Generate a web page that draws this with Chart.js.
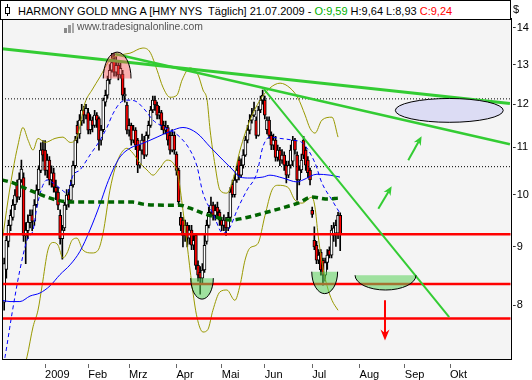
<!DOCTYPE html>
<html>
<head>
<meta charset="utf-8">
<script src="https://cdn.jsdelivr.net/npm/chart.js@4.4.0/dist/chart.umd.min.js"></script>
<style>
  body { margin: 0; background: #fff; }
  #wrap { position: relative; width: 532px; height: 380px; overflow: hidden; }
  #title {
    position: absolute; left: 0; top: 0; width: 511px; height: 20px; box-sizing: border-box;
    border: 1px solid #000; background: #fff; padding: 1px 0 0 17px;
    font: 11px "Liberation Sans", Arial, sans-serif; line-height: 18px; white-space: pre; color: #000;
  }
  #title .o { color: #00b000; }
  #title .c { color: #ff0000; }
  #icon { position: absolute; left: 4px; top: 4px; width: 7px; height: 12px; }
  #icon i, #logo i { position: absolute; display: block; }
  #logo { position: absolute; left: 64px; top: 23px; width: 10px; height: 10px; }
  #wm { position: absolute; left: 77px; top: 21px; font: 10.4px "Liberation Sans", Arial, sans-serif; color: #555; }
  #cur { position: absolute; left: 513px; top: 3px; font: 11px "Liberation Sans", Arial, sans-serif; color: #000; }
</style>
</head>
<body>
<div id="wrap">
  <canvas id="chart" width="532" height="380"></canvas>
  <div id="title">HARMONY GOLD MNG A [HMY NYS  Täglich] 21.07.2009 - <span class="o">O:9,59</span> H:9,64 L:8,93 <span class="c">C:9,24</span></div>
  <div id="icon"><i style="left:3px;top:0;width:1px;height:12px;background:#000"></i><i style="left:1px;top:3px;width:3px;height:5px;border:1px solid #000;background:#fff"></i></div>
  <div id="logo"><i style="left:0;top:5px;width:3px;height:5px;background:#888"></i><i style="left:4px;top:2px;width:3px;height:8px;background:#999"></i><i style="left:8px;top:0;width:2px;height:10px;background:#aaa"></i></div>
  <div id="wm">www.tradesignalonline.com</div>
  <div id="cur">$</div>
</div>
<script>
/* ------------- Kerzen (Handelstage, 0 = 02.01.2009) ------------- */
const firstDay = -19;
const open  = [8.05,8.60,9.10,9.40,9.55,9.80,10.20,9.95,10.30,10.35,9.20,9.30,9.45,9.60,9.48,9.80,10.10,10.50,10.95,
  10.94,10.50,10.72,10.30,10.45,10.15,10.05,9.59,9.15,9.35,9.79,10.00,9.89,10.20,10.60,11.50,11.30,11.60,11.86,11.74,
  11.80,11.40,11.62,11.50,11.74,11.66,11.16,11.40,12.05,12.22,12.60,12.85,13.12,12.80,12.98,12.73,12.75,12.20,11.98,11.39,
  11.50,11.16,11.39,11.16,10.61,10.94,11.16,10.83,11.27,11.50,11.86,12.10,11.98,11.74,11.80,11.50,11.39,11.45,11.27,10.94,
  11.27,10.85,10.51,9.55,9.50,9.21,9.40,9.16,9.31,9.03,9.21,8.67,8.55,8.45,8.59,9.10,9.40,9.65,9.79,9.59,
  9.75,9.65,9.50,9.40,9.50,9.35,9.55,10.21,10.00,10.30,10.72,10.40,10.61,10.83,11.16,11.39,11.62,11.74,11.62,11.27,
  11.86,12.10,12.10,11.40,11.62,11.27,11.05,11.16,10.78,10.94,10.72,10.83,10.61,10.40,10.61,10.70,11.16,10.83,10.30,10.51,
  11.16,10.94,10.72,10.51,9.69,9.12,9.03,8.76,8.90,8.76,8.50,8.72,8.94,8.85,9.21,9.25,9.25,9.59];
const high  = [8.80,9.20,9.50,9.70,9.90,10.10,10.30,10.45,10.72,10.45,9.45,9.60,9.70,9.70,9.90,10.20,10.60,11.10,11.15,
  11.15,10.85,10.80,10.60,10.55,10.30,10.15,9.70,9.40,9.85,10.10,10.10,10.30,10.70,11.25,11.60,11.75,12.00,11.95,12.00,
  11.90,11.75,11.70,11.85,11.80,11.70,11.50,12.15,12.35,12.70,13.00,13.30,13.30,13.20,13.10,13.05,12.85,12.40,12.05,11.65,
  11.55,11.50,11.45,11.20,11.05,11.30,11.25,11.35,11.60,11.95,12.20,12.20,12.05,11.95,11.85,11.60,11.60,11.50,11.35,11.40,
  11.35,10.90,10.55,9.65,9.55,9.50,9.45,9.40,9.40,9.25,9.25,8.75,8.65,8.70,9.25,9.50,9.75,9.95,9.85,9.80,
  9.85,9.70,9.55,9.60,9.55,9.65,10.15,10.30,10.40,10.60,10.80,10.75,10.95,11.25,11.50,11.75,11.90,12.05,11.70,11.95,
  12.20,12.35,12.20,11.70,11.70,11.35,11.30,11.25,11.05,11.00,10.95,10.90,10.70,10.70,11.05,11.25,11.20,10.90,10.60,10.85,
  11.25,11.00,10.80,10.55,9.75,9.37,9.10,8.95,8.95,8.80,8.80,8.95,9.00,9.40,9.45,9.50,9.65,9.64];
const low   = [7.92,8.45,9.00,9.30,9.50,9.70,9.85,9.90,10.25,9.10,8.70,9.15,9.35,9.30,9.40,9.75,10.00,10.45,10.70,
  10.40,10.35,10.20,10.15,10.05,9.90,9.70,9.05,8.78,9.30,9.70,9.75,9.85,10.15,10.55,11.10,11.20,11.50,11.55,11.65,
  11.30,11.30,11.35,11.45,11.45,10.94,11.05,11.35,11.95,12.15,12.50,12.80,12.70,12.70,12.60,12.65,12.10,12.05,11.30,11.25,
  11.05,11.10,10.95,10.45,10.55,10.85,10.75,10.80,11.20,11.45,11.80,11.85,11.65,11.65,11.40,11.30,11.30,11.05,10.85,10.90,
  10.85,10.40,9.80,9.30,9.00,9.10,9.00,9.05,8.95,8.95,8.60,8.40,8.18,8.35,8.55,9.05,9.35,9.60,9.50,9.50,
  9.55,9.40,9.30,9.30,9.21,9.30,9.50,9.95,9.95,10.25,10.30,10.35,10.55,10.80,11.10,11.30,11.55,11.70,11.20,11.25,
  11.80,12.00,11.65,11.30,11.20,10.95,10.95,10.70,10.70,10.60,10.65,10.50,10.24,10.35,10.55,10.60,10.85,9.89,10.20,10.45,
  10.75,10.50,10.35,10.20,9.55,8.95,8.70,8.70,8.50,8.33,8.40,8.60,8.80,8.80,9.10,9.01,9.15,8.93];
const close = [8.70,9.12,9.40,9.59,9.79,9.99,9.95,10.32,10.53,9.21,9.31,9.46,9.59,9.48,9.79,10.09,10.53,10.94,10.83,
  10.50,10.72,10.30,10.45,10.15,10.05,9.79,9.15,9.31,9.79,9.99,9.89,10.19,10.61,11.16,11.30,11.62,11.86,11.74,11.90,
  11.39,11.62,11.50,11.74,11.62,11.16,11.39,12.10,12.22,12.60,12.85,13.05,12.80,12.98,12.73,12.90,12.22,12.25,11.39,11.50,
  11.16,11.39,11.05,10.61,10.94,11.16,10.83,11.27,11.50,11.86,12.10,11.98,11.74,11.80,11.50,11.39,11.45,11.16,10.94,11.27,
  10.94,10.50,9.86,9.40,9.21,9.40,9.16,9.31,9.03,9.12,8.67,8.50,8.45,8.59,9.03,9.40,9.65,9.79,9.59,9.69,
  9.65,9.50,9.40,9.50,9.35,9.55,10.05,10.00,10.30,10.51,10.40,10.61,10.83,11.16,11.39,11.62,11.74,11.86,11.27,11.86,
  12.10,12.22,11.74,11.62,11.27,11.05,11.16,10.78,10.94,10.72,10.83,10.61,10.40,10.61,10.94,11.16,10.94,10.30,10.51,10.72,
  10.83,10.61,10.45,10.30,9.61,9.00,8.76,8.85,8.59,8.50,8.72,8.85,8.85,9.31,9.35,9.40,9.59,9.24];

/* ------------- Achsen ------------- */
const dayMin = -20.01, dayMax = 216.16;
const priceMin = 7.164, priceMax = 14.25;
const monthStarts = [0, 20, 39, 61, 82, 102, 124, 146, 167, 188];
const monthLabels = ["2009", "Feb", "Mrz", "Apr", "Mai", "Jun", "Jul", "Aug", "Sep", "Okt"];
const priceTicks = [8, 9, 10, 11, 12, 13, 14];

/* ------------- Indikatoren [Tag, Kurs] ------------- */
const bbUpper = [[-20,9.08],[-17.2,9.89],[-14.9,10.51],[-12.6,11.05],[-10.3,11.45],[-7.9,11.16],[-5.6,10.94],[-3.3,11.20],
  [0,11.11],[4.6,11.20],[8.3,11.23],[11.6,11.11],[14.8,11.23],[18.5,12.03],[21.8,12.35],[25.5,12.68],[30.1,13.12],
  [34.8,13.25],[39.4,13.30],[45.4,13.44],[48.7,13.33],[52,12.85],[54.7,12.42],[58,12.17],[61.2,12.22],[63.6,12.60],
  [67.3,12.91],[71,12.73],[73.3,12.35],[75.2,12.10],[76.6,11.39],[78.9,10.61],[81.2,10.09],[84.4,10.03],[87.2,10.30],
  [90.5,10.94],[95.1,11.62],[99.8,12.10],[104.4,12.40],[109.1,12.52],[113.7,12.40],[117.4,12.15],[120.7,11.74],
  [123,11.43],[125.3,11.32],[128.5,11.62],[133.2,11.69],[136,11.23]];
const bbLower = [[-20,6.70],[-12,6.85],[-8.4,7.21],[-5.6,7.66],[-3.3,7.92],[-1.4,8.32],[1.3,8.94],[3.7,9.08],[6,9.03],
  [8.3,8.80],[10.2,8.89],[12.5,9.12],[14.8,9.16],[17.6,8.94],[21.8,8.89],[24.6,8.94],[26.9,9.25],[30.1,10.09],
  [32.5,10.55],[34.8,10.83],[38,10.98],[40.8,10.87],[44,10.66],[47.3,10.51],[50.1,10.40],[53.3,10.55],[56.6,10.72],
  [59.4,10.66],[61.7,10.40],[64,9.69],[65.9,9.05],[68.2,8.33],[70.5,7.81],[73.3,7.58],[75.6,7.62],[77.9,7.92],
  [81.2,8.22],[84.4,8.25],[88.1,8.08],[90.5,8.33],[92.8,8.76],[95.1,8.98],[98.8,9.06],[102.1,9.59],[105.3,10.09],
  [108.1,10.19],[112.7,10.15],[116,9.89],[119.3,9.83],[123.9,9.95],[125.3,9.75],[126.7,9.23],[128.5,8.73],
  [130.9,8.32],[133.2,8.08],[136,7.92]];
const ma20 = [[-20,7.00],[-18.6,7.21],[-15.4,7.86],[-11.7,8.59],[-8.4,9.12],[-5.6,9.31],[-3.8,9.75],[-1.4,10.15],
  [0.9,10.30],[3.7,10.24],[6.9,10.13],[10.2,10.03],[13,10.40],[16.2,10.51],[20.8,10.83],[25.5,11.16],[28.7,11.45],
  [31.5,11.77],[34.8,12.03],[38,12.10],[41.7,12.08],[46.4,11.86],[50.1,11.62],[54.3,11.48],[58,11.39],[62.6,11.23],
  [67.3,10.94],[70.5,10.59],[73.3,10.03],[78,9.62],[82.6,9.25],[85.8,9.36],[89.1,9.69],[93.7,10.09],[98.3,10.44],
  [101.1,11.01],[104.4,11.23],[109.1,11.20],[115.1,11.16],[119.7,11.09],[125.3,10.66],[128.5,10.24],[133.2,9.89],
  [136.9,9.63]];
const ma50 = [[-20,8.08],[-16.3,8.06],[-11.7,8.06],[-7,8.15],[-2.4,8.20],[2.3,8.32],[6.9,8.51],[11.6,8.68],[16.2,8.92],
  [20.8,9.31],[25.5,9.81],[28.7,10.21],[31.5,10.51],[34.8,10.79],[39.4,10.98],[45.4,11.09],[52,11.23],[58,11.36],
  [64,11.45],[70.5,11.32],[76.6,11.01],[82.6,10.72],[87.2,10.51],[90.5,10.36],[95.1,10.34],[101.1,10.36],[104.4,10.40],
  [110.4,10.34],[116.9,10.26],[119.7,10.30],[126.2,10.42],[132.3,10.40],[136.9,10.36]];
const ma200 = [[-20,10.30],[-14.9,10.24],[-10.3,10.15],[-3.8,10.03],[0.9,9.95],[5.5,9.89],[11.6,9.85],[20.8,9.85],
  [33.4,9.85],[40.8,9.85],[45.4,9.81],[56.6,9.79],[62.6,9.79],[67.3,9.73],[73.3,9.63],[79.8,9.55],[85.8,9.50],
  [93.7,9.55],[102.8,9.65],[111.4,9.75],[117.4,9.83],[123.9,9.95],[131.3,9.91],[136,9.93]];

/* ------------- Zeichnungen ------------- */
const trendA = [[-20.0, 13.42], [215.8, 12.02]];
const trendB = [[32.5, 13.28], [215.8, 11.07]];
const trendC = [[101.6, 12.37], [187.6, 7.81]];
const redLevels = [9.23, 8.35, 7.79];
const dottedLevels = [12.13, 10.58];
const topZone = [27.0, 39.9, 12.64, 13.33];            // von, bis, Basis, Spitze
const bottomZones = [[67.6, 78.1, 8.45, 8.10], [123.8, 135.8, 8.56, 8.19], [143.9, 172.2, 8.50, 8.25]];
const targetZone = [162.6, 212.7, 12.14, 11.57];
const upArrows = [[154.7, 9.72, 160.9, 10.17], [168.6, 10.72, 174.8, 11.25]];
const downArrow = [157.8, 8.08, 7.45];

/* ------------- Aufbau ------------- */
const days = close.map((_, k) => firstDay + k);
const pts = a => a.map(([x, y]) => ({ x, y }));

function line(data, color, width, dash, order, smooth) {
  return {
    type: "line", data: pts(data), borderColor: color, borderWidth: width, borderDash: dash || [],
    pointRadius: 0, fill: false, order, tension: smooth ? 0.4 : 0,
    cubicInterpolationMode: smooth ? "monotone" : "default"
  };
}
const level = (v, color, width, dash, order) =>
  line([[dayMin, v], [dayMax, v]], color, width, dash, order, false);

const datasets = [
  { type: "bar", data: days.map((d, k) => ({ x: d, y: [low[k], high[k]] })),
    backgroundColor: "#000", barThickness: 1, grouped: false, order: 21 },
  { type: "bar", data: days.map((d, k) => ({ x: d, y: [Math.min(open[k], close[k]), Math.max(open[k], close[k])] })),
    backgroundColor: days.map((d, k) => close[k] < open[k] ? "#ff0000" : "#ffffff"),
    borderColor: "#000", borderWidth: 1, borderSkipped: false, barThickness: 3, grouped: false, order: 20 },
  line(bbUpper, "#999900", 1, null, 10, true),
  line(bbLower, "#999900", 1, null, 10, true),
  line(ma20, "#0000ff", 1, [4, 3], 9, true),
  line(ma50, "#0000ff", 1, null, 9, true),
  line(ma200, "#006400", 3.5, [6, 4], 8, true),
  ...dottedLevels.map(v => level(v, "#000", 1, [1, 2], 7)),
  ...redLevels.map(v => level(v, "#ff0000", 2.5, null, 6)),
  line(trendA, "#33cc33", 3, null, 5),
  line(trendB, "#33cc33", 2.5, null, 5),
  line(trendC, "#33cc33", 2, null, 5)
];

function arrow(ctx, x1, y1, x2, y2, color, w, head, headW) {
  const a = Math.atan2(y2 - y1, x2 - x1), c = Math.cos(a), s = Math.sin(a);
  ctx.strokeStyle = color; ctx.lineWidth = w;
  ctx.beginPath(); ctx.moveTo(x1, y1); ctx.lineTo(x2 - c * head * 0.7, y2 - s * head * 0.7); ctx.stroke();
  ctx.fillStyle = color; ctx.beginPath(); ctx.moveTo(x2, y2);
  ctx.lineTo(x2 - head * c + headW / 2 * s, y2 - head * s - headW / 2 * c);
  ctx.lineTo(x2 - head * c * 0.7, y2 - head * s * 0.7);
  ctx.lineTo(x2 - head * c - headW / 2 * s, y2 - head * s + headW / 2 * c);
  ctx.closePath(); ctx.fill();
}

const decor = {
  id: "decor",
  beforeDraw(chart) {
    const { ctx, chartArea: a } = chart;
    ctx.save(); ctx.fillStyle = "#f4f4f4"; ctx.fillRect(a.left, a.top, a.width, a.height); ctx.restore();
  },
  afterDatasetsDraw(chart) {
    const { ctx, chartArea: a } = chart;
    const X = v => chart.scales.x.getPixelForValue(v), Y = v => chart.scales.y.getPixelForValue(v);
    ctx.save();
    ctx.beginPath(); ctx.rect(a.left, a.top, a.width, a.height); ctx.clip();
    // Hochpunkt-Kuppel
    {
      const [d1, d2, base, top] = topZone, cx = (X(d1) + X(d2)) / 2, rx = (X(d2) - X(d1)) / 2, ry = Y(base) - Y(top);
      ctx.beginPath(); ctx.ellipse(cx, Y(base), rx, ry, 0, Math.PI, 2 * Math.PI); ctx.closePath();
      ctx.fillStyle = "rgba(255,80,80,0.42)"; ctx.fill();
      ctx.beginPath(); ctx.ellipse(cx, Y(base), rx, ry, 0, Math.PI, 2 * Math.PI);
      ctx.strokeStyle = "#000"; ctx.lineWidth = 1; ctx.stroke();
    }
    // Boden-Schalen
    bottomZones.forEach(([d1, d2, top, bottom]) => {
      const cx = (X(d1) + X(d2)) / 2, rx = (X(d2) - X(d1)) / 2, ry = Y(bottom) - Y(top);
      ctx.beginPath(); ctx.ellipse(cx, Y(top), rx, ry, 0, 0, Math.PI); ctx.closePath();
      ctx.fillStyle = "rgba(90,210,90,0.55)"; ctx.fill();
      ctx.beginPath(); ctx.ellipse(cx, Y(top), rx, ry, 0, 0, Math.PI);
      ctx.strokeStyle = "#000"; ctx.lineWidth = 1; ctx.stroke();
    });
    // Kursziel
    {
      const [d1, d2, p1, p2] = targetZone;
      ctx.beginPath();
      ctx.ellipse((X(d1) + X(d2)) / 2, (Y(p1) + Y(p2)) / 2, (X(d2) - X(d1)) / 2, (Y(p2) - Y(p1)) / 2, 0, 0, 2 * Math.PI);
      ctx.fillStyle = "#dcdcf4"; ctx.fill(); ctx.strokeStyle = "#000"; ctx.lineWidth = 1; ctx.stroke();
    }
    upArrows.forEach(([d1, p1, d2, p2]) => arrow(ctx, X(d1), Y(p1), X(d2), Y(p2), "#33cc33", 2, 9, 8));
    arrow(ctx, X(downArrow[0]), Y(downArrow[1]), X(downArrow[0]), Y(downArrow[2]), "#ff0000", 2, 11, 9);
    ctx.restore();
    // Rahmen
    ctx.save(); ctx.strokeStyle = "#000"; ctx.lineWidth = 1;
    ctx.strokeRect(Math.round(a.left) + 0.5, Math.round(a.top) - 0.5, Math.round(a.width), Math.round(a.height));
    ctx.restore();
  }
};

new Chart(document.getElementById("chart"), {
  type: "bar",
  data: { datasets },
  plugins: [decor],
  options: {
    responsive: false, animation: false, events: [],
    layout: { padding: { left: 2, top: 19, right: 0, bottom: 0 } },
    plugins: { legend: { display: false }, tooltip: { enabled: false } },
    scales: {
      x: {
        type: "linear", min: dayMin, max: dayMax, offset: false,
        afterFit: s => { s.height = 20; },
        afterBuildTicks: s => { s.ticks = monthStarts.map(v => ({ value: v })); },
        grid: { drawOnChartArea: false, offset: false, tickLength: 8, color: "#666", tickBorderDash: [0, 4, 4, 20] },
        border: { display: false },
        ticks: {
          autoSkip: false, maxRotation: 0, align: "start", padding: 0, color: "#000",
          font: { family: "Liberation Sans", size: 11 },
          callback: v => monthLabels[monthStarts.indexOf(v)]
        }
      },
      y: {
        type: "logarithmic", position: "right", min: priceMin, max: priceMax,
        afterFit: s => { s.width = 21.3; },
        afterBuildTicks: s => { s.ticks = priceTicks.map(v => ({ value: v })); },
        grid: { drawOnChartArea: false, tickLength: 5, color: "#333", tickBorderDash: [0, 2, 3, 20] },
        border: { display: false },
        ticks: { padding: 1, color: "#000", font: { family: "Liberation Sans", size: 11 }, callback: v => String(v) }
      }
    }
  }
});
</script>
</body>
</html>
